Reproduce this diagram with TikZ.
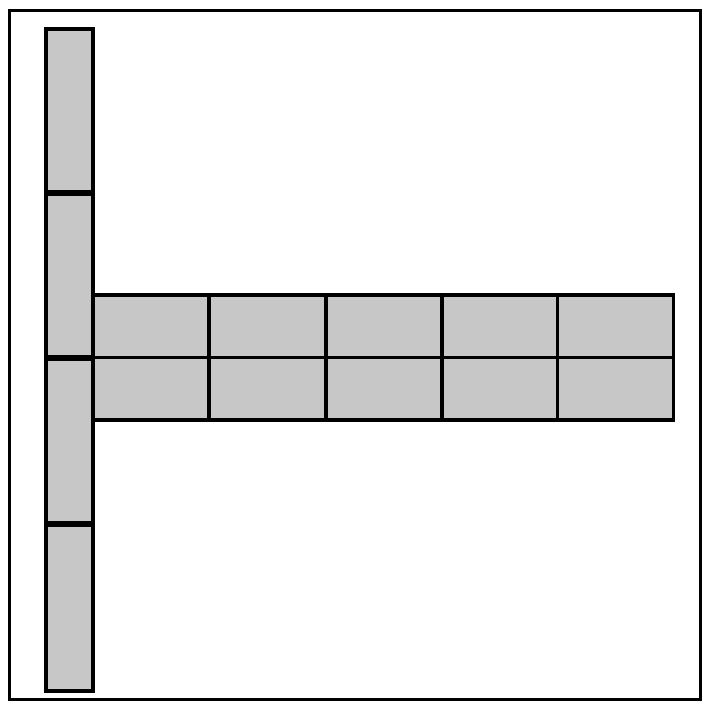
\documentclass[tikz,border=0pt]{standalone}
\begin{document}
\begin{tikzpicture}[x=1pt,y=-1pt,
  cell/.style={fill=black!22, draw=black, line width=3.5pt},
  sep/.style={draw=black, line width=5.5pt},
  frame/.style={draw=black, line width=3pt}]
\useasboundingbox (0,0) rectangle (704,702);
\draw[frame] (9.5,10.5) rectangle (700.5,699.5);
% vertical column
\draw[cell] (46,29) rectangle (93,691);
\draw[sep] (46,193) -- (93,193);
\draw[sep] (46,524) -- (93,524);
% horizontal bars
\foreach \x in {93,209.5,326,442,557.5}{
  \draw[cell] (\x,295) rectangle ++(116,62.5);
  \draw[cell] (\x,357.5) rectangle ++(116,62.5);
}
\draw[sep] (46,358) -- (93,358);
\end{tikzpicture}
\end{document}
